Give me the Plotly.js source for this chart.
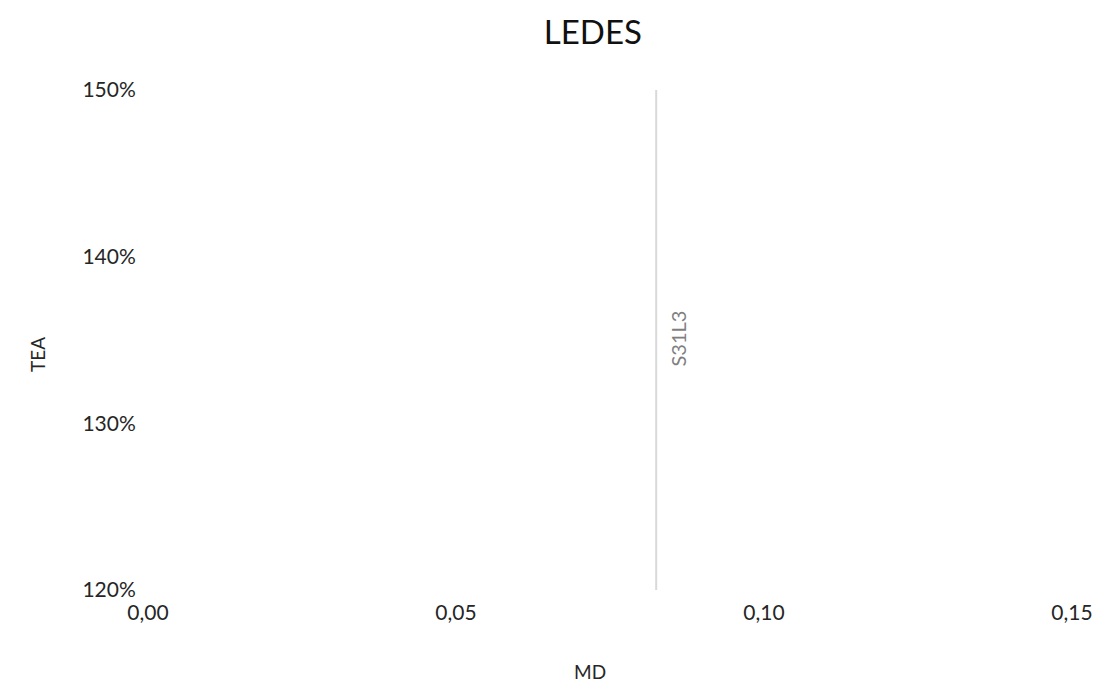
<!DOCTYPE html>
<html>
<head>
<meta charset="utf-8">
<script src="https://cdn.plot.ly/plotly-3.0.1.min.js"></script>
<style>html,body{margin:0;padding:0;background:#fff;}#chart{width:1100px;height:685px;}</style>
</head>
<body>
<div id="chart"></div>
<script>
const seriesName = "S31L3";
const mdValues = [0.0825, 0.0825];
const teaValues = [1.20, 1.50];
const xTicks = [0, 0.05, 0.10, 0.15];
const yTicks = [1.2, 1.3, 1.4, 1.5];
const xTitle = "MD";
const yTitle = "TEA";
const chartTitle = "LEDES";

const font = "Lato, 'Open Sans', sans-serif";

const traces = [{
  type: 'scatter', mode: 'lines',
  x: mdValues, y: teaValues,
  line: {color: '#d9d9d9', width: 2},
  hoverinfo: 'skip', showlegend: false
}];

const layout = {
  width: 1100, height: 685,
  paper_bgcolor: '#ffffff', plot_bgcolor: '#ffffff',
  separators: ',.',
  margin: {l: 148, r: 28, t: 90, b: 95},
  font: {family: font, color: '#262626'},
  showlegend: false,
  title: {text: chartTitle, font: {size: 33, color: '#111', family: font}, xref: 'container', x: 0.539, xanchor: 'center', yref: 'container', y: 0.952, yanchor: 'middle'},
  xaxis: {
    range: [0, 0.15], tickvals: xTicks, tickformat: '.2f',
    showgrid: false, zeroline: false, showline: false,
    ticks: 'outside', ticklen: 4, tickcolor: 'rgba(0,0,0,0)',
    tickfont: {size: 21, color: '#262626'}
  },
  yaxis: {
    range: [1.2, 1.5], tickvals: yTicks, tickformat: '.0%',
    showgrid: false, zeroline: false, showline: false,
    ticks: 'outside', ticklen: 7, tickcolor: 'rgba(0,0,0,0)',
    tickfont: {size: 21, color: '#262626'}
  },
  annotations: [{
    x: mdValues[0], y: 1.351, xref: 'x', yref: 'y',
    text: seriesName, textangle: -90, showarrow: false,
    xshift: 22, font: {size: 20, color: '#7f7f7f', family: font}
  }, {
    x: 0, y: 0, xref: 'paper', yref: 'paper',
    text: xTitle, showarrow: false, xanchor: 'center', yanchor: 'middle',
    font: {size: 19, color: '#262626', family: font}
  }, {
    x: 0, y: 0, xref: 'paper', yref: 'paper',
    text: yTitle, textangle: -90, showarrow: false, xanchor: 'center', yanchor: 'middle',
    font: {size: 19, color: '#262626', family: font}
  }]
};
// paper coords for axis-title annotations computed relative to plot area
(function(){
  const L = 148, R = 28, T = 90, B = 95, W = 1100, H = 685;
  const pw = W - L - R, ph = H - T - B;
  layout.annotations[1].x = (590 - L) / pw;
  layout.annotations[1].y = (H - B - 671) / ph;
  layout.annotations[2].x = (37 - L) / pw;
  layout.annotations[2].y = (H - B - 355) / ph;
})();

Plotly.newPlot('chart', traces, layout, {displayModeBar: false, staticPlot: true});
</script>
</body>
</html>
